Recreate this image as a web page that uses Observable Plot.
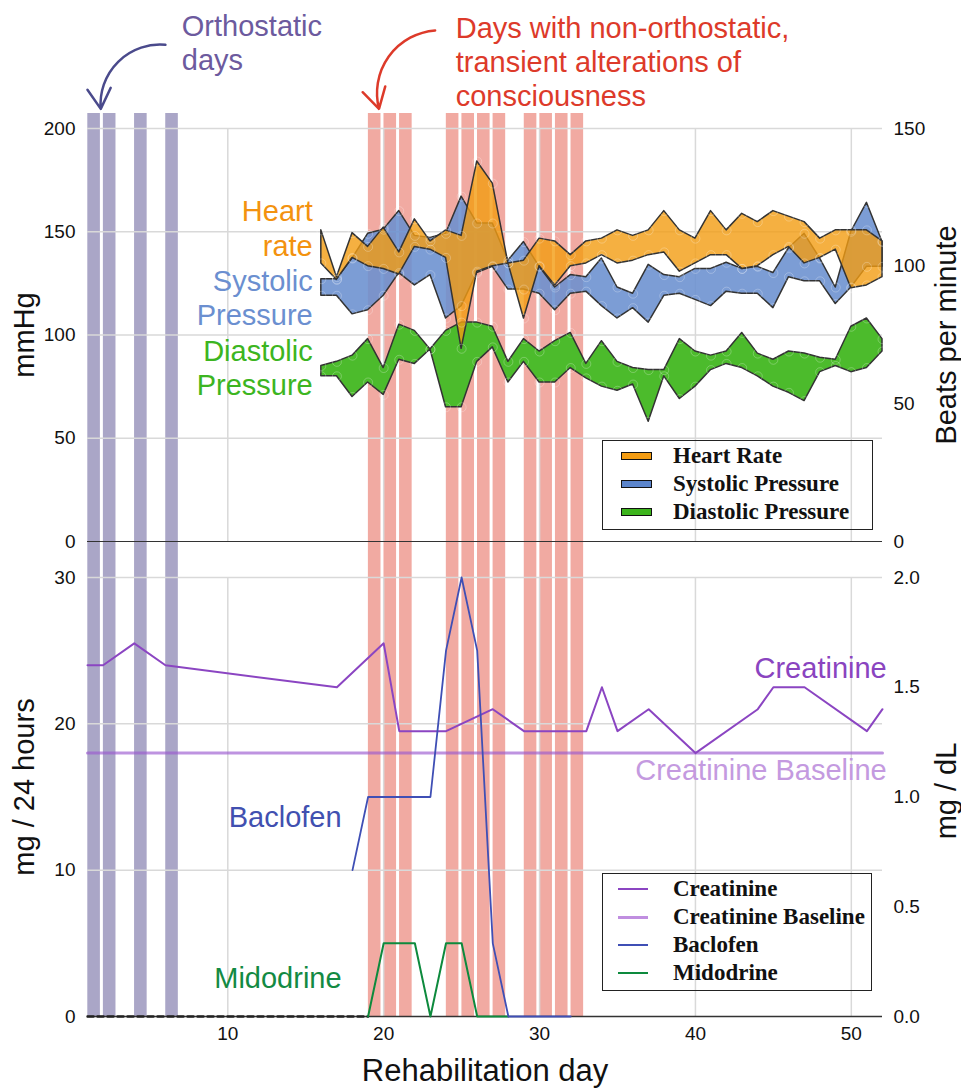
<!DOCTYPE html>
<html>
<head>
<meta charset="utf-8">
<script src="https://cdn.jsdelivr.net/npm/d3@7"></script>
<script src="https://cdn.jsdelivr.net/npm/@observablehq/plot@0.6"></script>
<style>
  body { margin: 0; background: #fff; }
  #wrap { position: relative; width: 961px; height: 1089px; overflow: hidden; font-family: "Liberation Sans", Arial, sans-serif; }
  #topPanel, #bottomPanel { position: absolute; left: 0; }
  #topPanel { top: 0; }
  #bottomPanel { top: 545px; }
  .legend { position: absolute; box-sizing: border-box; border: 1.5px solid #222; font-family: "Liberation Serif", "Times New Roman", serif; font-weight: bold; font-size: 23px; color: #111; }
  .legend .row { position: absolute; left: 0; height: 28px; line-height: 28px; white-space: nowrap; }
  .legend .sw { position: absolute; }
  .legend .lab { position: absolute; left: 70px; top: 0; }
</style>
</head>
<body>
<div id="wrap">
  <div id="topPanel"></div>
  <div id="bottomPanel"></div>
</div>
<script>
// ---------------- data ----------------
const days = [16,17,18,19,20,21,22,23,24,25,26,27,28,29,30,31,32,33,34,35,36,37,38,39,40,41,42,43,44,45,46,47,48,49,50,51,52];
const heartRateHigh = [113,96,112,107,114,105,117,109,113,111,138,130,101,102,110,109,104,109,110,113,111,113,120,113,110,120,113,119,116,120,118,116,110,113,113,113,109];
const heartRateLow  = [101,95,103,100,99,97,107,106,103,70,98,100,101,81,100,93,100,101,104,101,102,104,105,98,101,104,104,99,100,104,107,101,103,106,92,93,96];
const systolicHigh  = [127,127,137,149,151,160,148,147,149,167,154,154,136,145,133,123,129,128,137,123,120,134,129,128,132,132,135,132,133,130,142,149,137,123,150,164,145];
const systolicLow   = [119,119,110,112,119,130,124,129,108,114,130,133,122,122,120,112,120,121,114,108,113,106,119,120,117,114,121,120,120,113,128,126,126,115,123,133,133];
const diastolicHigh = [85,87,90,98,84,105,102,93,102,106,106,104,87,98,92,97,101,86,97,87,84,83,83,98,92,90,92,101,91,88,92,91,89,88,104,108,98];
const diastolicLow  = [80,80,70,77,71,88,86,93,65,65,87,94,77,87,77,77,84,79,75,73,76,58,80,69,75,83,86,84,80,75,72,68,82,85,82,84,92];

const orthostaticDays = [1,2,4,6];
const alterationDays = [19,20,21,24,25,26,27,29,30,31,32];

const creatinineDays   = [1,2,4,6,17,20,21,24,27,29,33,34,35,37,40,44,45,47,51,52];
const creatinineValues = [1.6,1.6,1.7,1.6,1.5,1.7,1.3,1.3,1.4,1.3,1.3,1.5,1.3,1.4,1.2,1.4,1.5,1.5,1.3,1.4];
const creatinineBaseline = 1.2;
const baselineDays = [1,52];
const baclofenDays   = [18,19,23,24,25,26,27,28,32];
const baclofenValues = [10,15,15,25,30,25,5,0,0];
const midodrineDays   = [19,20,22,23,24,25,26,28];
const midodrineValues = [0,5,5,0,5,5,0,0];
const midodrineUnrecordedDays = [1,19];

const xTicks = [10,20,30,40,50];
const mmHgTicks = [0,50,100,150,200];
const bpmTicks = [0,50,100,150];
const doseTicks = [0,10,20,30];
const mgdlTicks = [0,0.5,1.0,1.5,2.0];

// secondary-axis conversions (right axis -> left axis units)
const BPM_TO_MMHG = 200/150;
const MGDL_TO_DOSE = 30/2;

// ---------------- styles ----------------
const C = {
  hr: "#f39c12", sys: "#6a90cf", dia: "#4cbb2c",
  hrText: "#f3920f", sysText: "#6b8fd0", diaText: "#3cb521",
  ortho: "#aaa6c7", alter: "#f1aaa2", grid: "#d9d9d9",
  creat: "#8b45c2", base: "#9b59d0", baclo: "#3f4fb5", mido: "#0d8a3d",
  orthoText: "#6c5a9e", orthoArrow: "#4a4a8c", alterText: "#dd3a2a"
};
const FONT = "Liberation Sans, Arial, sans-serif";
const BIG = 29;
const TICK = 19;

const vitals = days.map((d, i) => ({
  day: d,
  hrHi: heartRateHigh[i] * BPM_TO_MMHG, hrLo: heartRateLow[i] * BPM_TO_MMHG,
  sysHi: systolicHigh[i], sysLo: systolicLow[i],
  diaHi: diastolicHigh[i], diaLo: diastolicLow[i]
}));
const vitalPoints = vitals.flatMap(v => [
  {day: v.day, v: v.hrHi}, {day: v.day, v: v.hrLo},
  {day: v.day, v: v.sysHi}, {day: v.day, v: v.sysLo},
  {day: v.day, v: v.diaHi}, {day: v.day, v: v.diaLo}
]);

const creat = creatinineDays.map((d, i) => ({day: d, v: creatinineValues[i] * MGDL_TO_DOSE}));
const baseline = baselineDays.map(d => ({day: d, v: creatinineBaseline * MGDL_TO_DOSE}));
const baclo = baclofenDays.map((d, i) => ({day: d, v: baclofenValues[i]}));
const mido = midodrineDays.map((d, i) => ({day: d, v: midodrineValues[i]}));
const midoUnrec = midodrineUnrecordedDays.map(d => ({day: d, v: 0}));

// annotations (data coordinates)
const vitalLabels = [
  {text: "Heart\nrate", day: 15.45, v: 152, color: C.hrText},
  {text: "Systolic\nPressure", day: 15.45, v: 118.5, color: C.sysText},
  {text: "Diastolic\nPressure", day: 15.45, v: 84.5, color: C.diaText}
];
const topNotes = [
  {text: "Orthostatic\ndays", day: 7.05, v: 242, color: C.orthoText},
  {text: "Days with non-orthostatic,\ntransient alterations of\nconsciousness", day: 24.62, v: 232.5, color: C.alterText}
];
const topArrows = [
  {d1: 6.0, v1: 240.5, d2: 1.85, v2: 209.5, color: C.orthoArrow},
  {d1: 23.3, v1: 247.5, d2: 19.7, v2: 209.5, color: C.alterText}
];
const medLabels = [
  {text: "Creatinine", day: 52.27, v: 23.8, color: "#8a44c0"},
  {text: "Creatinine Baseline", day: 52.27, v: 16.8, color: "#c49ae0"},
  {text: "Baclofen", day: 17.3, v: 13.6, color: "#4150b0"},
  {text: "Midodrine", day: 17.3, v: 2.6, color: "#138a43"}
];

const common = {
  width: 961, marginLeft: 87, marginRight: 79,
  x: {domain: [1, 52], axis: null},
  style: {fontFamily: FONT, background: "transparent", overflow: "visible", color: "#111"}
};
const barOpts = {x1: d => d, x2: d => d + 1, insetLeft: 0.3, insetRight: 2.7};

// ---------------- top panel ----------------
const topChart = Plot.plot({
  ...common,
  height: 545, marginTop: 128, marginBottom: 4,
  y: {domain: [0, 200], axis: null},
  marks: [
    Plot.rect(orthostaticDays, {...barOpts, insetTop: -15, insetBottom: -4, fill: C.ortho}),
    Plot.rect(alterationDays, {...barOpts, insetTop: -15, insetBottom: -4, fill: C.alter}),
    Plot.gridX(xTicks, {stroke: C.grid, strokeOpacity: 1, strokeWidth: 1.5}),
    Plot.gridY(mmHgTicks.slice(1), {stroke: C.grid, strokeOpacity: 1, strokeWidth: 1.5}),
    Plot.ruleY([0], {stroke: "#333", strokeWidth: 1.2}),
    Plot.areaY(vitals, {x: "day", y1: "diaLo", y2: "diaHi", fill: C.dia, fillOpacity: 1, stroke: "#333", strokeWidth: 1.5}),
    Plot.areaY(vitals, {x: "day", y1: "sysLo", y2: "sysHi", fill: C.sys, fillOpacity: 0.88, stroke: "#333", strokeWidth: 1.5}),
    Plot.areaY(vitals, {x: "day", y1: "hrLo", y2: "hrHi", fill: C.hr, fillOpacity: 0.8, stroke: "#333", strokeWidth: 1.5}),
    Plot.dot(vitalPoints, {x: "day", y: "v", r: 4.5, stroke: "white", strokeOpacity: 0.25, strokeWidth: 1}),
    Plot.axisY(mmHgTicks, {anchor: "left", tickSize: 0, tickPadding: 12, fontSize: TICK, label: null}),
    Plot.axisY(bpmTicks.map(b => b * BPM_TO_MMHG), {anchor: "right", tickSize: 0, tickPadding: 11, fontSize: TICK, label: null, tickFormat: v => String(Math.round(v / BPM_TO_MMHG))}),
    Plot.text(["mmHg"], {frameAnchor: "left", textAnchor: "middle", dx: -63, rotate: -90, fontSize: BIG}),
    Plot.text(["Beats per minute"], {frameAnchor: "right", textAnchor: "middle", dx: 64, rotate: -90, fontSize: BIG}),
    Plot.text(vitalLabels, {x: "day", y: "v", text: "text", fill: "color", textAnchor: "end", fontSize: BIG, lineHeight: 1.19}),
    Plot.text(topNotes, {x: "day", y: "v", text: "text", fill: "color", textAnchor: "start", fontSize: BIG, lineHeight: 1.17}),
    Plot.arrow(topArrows, {x1: "d1", y1: "v1", x2: "d2", y2: "v2", stroke: "color", strokeWidth: 2.5, bend: -50, headLength: 14})
  ]
});
document.getElementById("topPanel").appendChild(topChart);

// ---------------- bottom panel ----------------
const bottomChart = Plot.plot({
  ...common,
  height: 544, marginTop: 32, marginBottom: 73,
  y: {domain: [0, 30], axis: null},
  marks: [
    Plot.rect(orthostaticDays, {...barOpts, insetTop: -32, fill: C.ortho}),
    Plot.rect(alterationDays, {...barOpts, insetTop: -32, fill: C.alter}),
    Plot.gridX(xTicks, {stroke: C.grid, strokeOpacity: 1, strokeWidth: 1.5}),
    Plot.gridY(doseTicks.slice(1), {stroke: C.grid, strokeOpacity: 1, strokeWidth: 1.5}),
    Plot.line(baseline, {x: "day", y: "v", stroke: C.base, strokeOpacity: 0.65, strokeWidth: 3}),
    Plot.ruleY([0], {stroke: "#333", strokeWidth: 1.6}),
    Plot.line(midoUnrec, {x: "day", y: "v", stroke: "#222", strokeWidth: 2.4, strokeDasharray: "6,4"}),
    Plot.line(creat, {x: "day", y: "v", stroke: C.creat, strokeWidth: 2}),
    Plot.line(mido, {x: "day", y: "v", stroke: C.mido, strokeWidth: 2}),
    Plot.line(baclo, {x: "day", y: "v", stroke: C.baclo, strokeWidth: 1.8}),
    Plot.axisY(doseTicks, {anchor: "left", tickSize: 0, tickPadding: 12, fontSize: TICK, label: null}),
    Plot.axisY(mgdlTicks.map(m => m * MGDL_TO_DOSE), {anchor: "right", tickSize: 0, tickPadding: 11, fontSize: TICK, label: null, tickFormat: v => (v / MGDL_TO_DOSE).toFixed(1)}),
    Plot.axisX(xTicks, {anchor: "bottom", tickSize: 0, tickPadding: 10, fontSize: TICK, label: null}),
    Plot.text(["mg / 24 hours"], {frameAnchor: "left", textAnchor: "middle", dx: -63, dy: -10, rotate: -90, fontSize: BIG}),
    Plot.text(["mg / dL"], {frameAnchor: "right", textAnchor: "middle", dx: 64, dy: -6, rotate: -90, fontSize: BIG}),
    Plot.text(["Rehabilitation day"], {frameAnchor: "bottom", lineAnchor: "middle", dy: 55, fontSize: 31}),
    Plot.text(medLabels, {x: "day", y: "v", text: "text", fill: "color", textAnchor: "end", fontSize: BIG})
  ]
});
document.getElementById("bottomPanel").appendChild(bottomChart);

// ---------------- legends ----------------
const wrap = document.getElementById("wrap");
function legend(box, items, kind) {
  const el = document.createElement("div");
  el.className = "legend";
  Object.assign(el.style, {left: box.left + "px", top: box.top + "px", width: box.width + "px", height: box.height + "px"});
  items.forEach((it, i) => {
    const row = document.createElement("div");
    row.className = "row";
    row.style.top = (box.first + i * 28 - 14) + "px";
    row.style.width = box.width + "px";
    const sw = document.createElement("div");
    sw.className = "sw";
    if (kind === "rect") {
      Object.assign(sw.style, {left: "18px", top: "10px", width: "29px", height: "6px", background: it.color, border: "1.2px solid #111"});
    } else {
      Object.assign(sw.style, {left: "15px", top: (14 - it.w / 2) + "px", width: "30px", height: it.w + "px", background: it.color});
    }
    const lab = document.createElement("div");
    lab.className = "lab";
    lab.textContent = it.name;
    row.appendChild(sw); row.appendChild(lab);
    el.appendChild(row);
  });
  wrap.appendChild(el);
}
legend({left: 602, top: 440, width: 271, height: 90, first: 15}, [
  {name: "Heart Rate", color: C.hr},
  {name: "Systolic Pressure", color: "#5b85cc"},
  {name: "Diastolic Pressure", color: "#3cb41c"}
], "rect");
legend({left: 602, top: 873, width: 270, height: 118, first: 15}, [
  {name: "Creatinine", color: C.creat, w: 2},
  {name: "Creatinine Baseline", color: "#c08ee0", w: 3},
  {name: "Baclofen", color: C.baclo, w: 2},
  {name: "Midodrine", color: C.mido, w: 2}
], "line");
</script>
</body>
</html>
